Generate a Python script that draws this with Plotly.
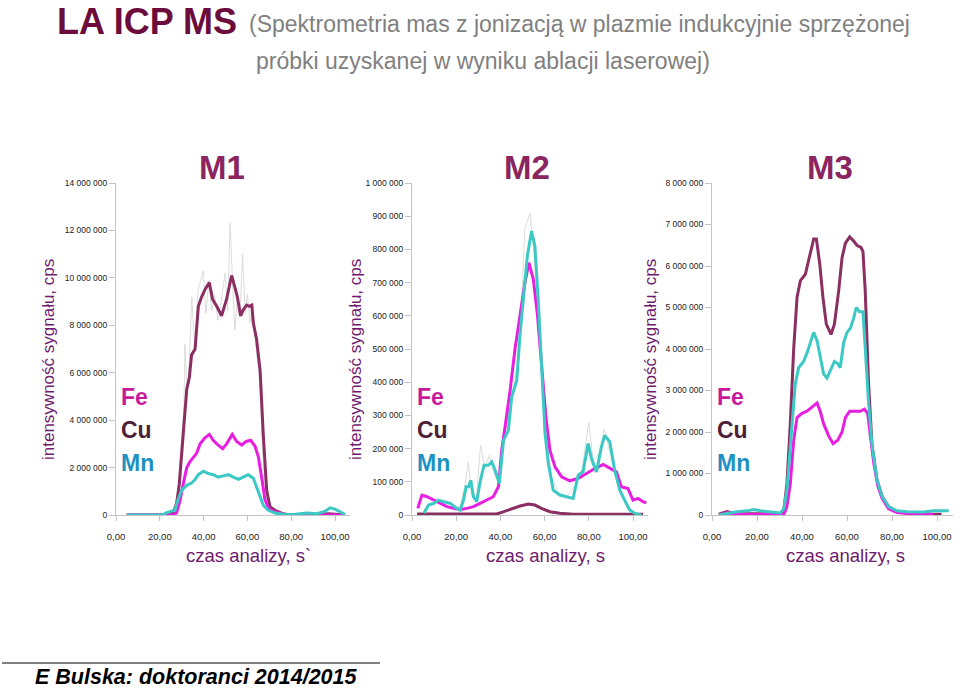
import plotly.graph_objects as go

W, H = 960, 689

# ---- data (time in s, intensity in cps) ----
m1_cu_t = [4.9, 24.7, 26.2, 27.7, 28.9, 30.7, 32.3, 33.5, 34.5, 36.1, 37.6, 39.1, 40.6, 42.6, 44.1, 46.0,
           48.2, 50.5, 52.8, 54.3, 55.4, 56.9, 58.1, 59.7, 60.9, 62.0, 62.7, 64.2, 65.8, 67.3, 68.8, 70.3,
           72.6, 76.4, 79.5, 90.0, 97.0, 104.6]
m1_cu = [0, 0, 0.1e6, 0.5e6, 1.3e6, 3.3e6, 5.3e6, 5.8e6, 6.75e6, 7.0e6, 8.8e6, 9.2e6, 9.5e6, 9.8e6, 9.1e6, 8.8e6,
         8.4e6, 9.1e6, 10.1e6, 9.6e6, 9.2e6, 8.4e6, 8.65e6, 8.85e6, 8.8e6, 8.85e6, 8.1e6, 7.4e6, 6.1e6, 3.3e6,
         1.05e6, 0.35e6, 0.2e6, 0.05e6, 0, 0.02e6, 0.05e6, 0]

m1_fe_t = [4.9, 26.5, 27.7, 29.2, 30.7, 32.3, 33.8, 35.6, 36.8, 38.4, 40.6, 42.6, 44.4, 46.7, 48.7, 50.5,
           53.1, 55.1, 57.4, 59.4, 61.5, 63.5, 65.0, 66.5, 68.0, 69.6, 71.9, 76.4, 80.0, 104.6]
m1_fe = [0, 0, 0.1e6, 0.6e6, 1.3e6, 2.0e6, 2.25e6, 2.45e6, 2.6e6, 3.0e6, 3.25e6, 3.4e6, 3.15e6, 2.95e6, 2.8e6,
         3.0e6, 3.4e6, 3.1e6, 2.95e6, 3.1e6, 3.15e6, 2.9e6, 2.45e6, 1.6e6, 0.65e6, 0.3e6, 0.15e6, 0.03e6, 0, 0]

m1_mn_t = [4.9, 21.0, 23.1, 25.4, 26.9, 28.5, 30.0, 32.3, 34.5, 36.1, 37.6, 39.9, 42.2, 44.4, 46.7, 49.0,
           51.3, 53.6, 55.9, 58.1, 60.4, 62.7, 64.2, 65.8, 67.3, 69.6, 72.6, 76.4, 81.0, 87.1, 91.6, 95.4,
           97.7, 100.0, 102.3, 104.6]
m1_mn = [0, 0, 0.1e6, 0.15e6, 0.2e6, 0.7e6, 1.05e6, 1.25e6, 1.35e6, 1.5e6, 1.7e6, 1.85e6, 1.75e6, 1.7e6,
         1.6e6, 1.65e6, 1.7e6, 1.6e6, 1.5e6, 1.6e6, 1.7e6, 1.55e6, 1.2e6, 0.8e6, 0.4e6, 0.2e6, 0.08e6,
         0.03e6, 0.02e6, 0.08e6, 0.05e6, 0.15e6, 0.3e6, 0.25e6, 0.12e6, 0.02e6]

m1_raw_t = [26, 28, 29.5, 31, 31.5, 32.5, 33.5, 34.6, 36, 37.5, 39.9, 41, 42.5, 43.7, 45, 46.5, 48, 49.8,
            51, 52.1, 53.3, 54.3, 55.5, 56.5, 57.8, 59, 60, 61.2, 62.5, 64, 65.5, 67, 68.5, 70]
m1_raw = [0.1e6, 0.8e6, 2.5e6, 4.5e6, 7.2e6, 5.0e6, 6.5e6, 9.2e6, 7.0e6, 9.5e6, 10.3e6, 8.5e6, 9.9e6, 8.6e6,
          9.3e6, 8.2e6, 9.0e6, 10.2e6, 8.6e6, 12.3e6, 9.6e6, 7.8e6, 9.2e6, 8.3e6, 11.0e6, 8.5e6, 9.3e6,
          8.1e6, 8.9e6, 7.0e6, 5.8e6, 2.5e6, 0.8e6, 0.2e6]

m2_fe_t = [2.6, 4.5, 6.8, 9.8, 12.8, 15.8, 18.8, 21.8, 24.8, 27.8, 30.8, 33.8, 36.8, 39.1, 40.6, 42.1, 44.4,
           46.6, 48.9, 51.1, 52.9, 54.9, 56.8, 58.6, 60.6, 62.4, 64.7, 67.7, 71.4, 75.2, 78.9, 82.7, 86.5,
           89.5, 92.5, 94.7, 97.7, 100.0, 102.3, 104.5, 106.0]
m2_fe = [20e3, 60e3, 55e3, 45e3, 35e3, 25e3, 20e3, 17e3, 20e3, 25e3, 35e3, 45e3, 55e3, 85e3, 195e3, 265e3,
         375e3, 500e3, 610e3, 700e3, 760e3, 710e3, 600e3, 450e3, 295e3, 195e3, 145e3, 115e3, 103e3, 110e3,
         125e3, 140e3, 152e3, 140e3, 130e3, 85e3, 80e3, 45e3, 50e3, 40e3, 37e3]

m2_mn_t = [5.3, 7.5, 9.8, 12.0, 14.3, 17.3, 20.3, 21.8, 23.3, 24.5, 25.6, 26.6, 27.8, 29.3, 30.8, 32.6, 34.6,
           36.1, 37.6, 39.5, 41.4, 43.6, 45.1, 47.4, 48.9, 50.7, 52.2, 54.1, 55.6, 57.1, 58.6, 60.2, 61.7,
           63.9, 66.9, 69.9, 72.9, 75.2, 77.4, 79.7, 81.2, 83.5, 85.7, 87.2, 89.5, 91.7, 94.0, 96.2, 98.5,
           100.8, 103.8]
m2_mn = [5e3, 30e3, 35e3, 45e3, 40e3, 35e3, 20e3, 15e3, 45e3, 85e3, 85e3, 105e3, 55e3, 40e3, 100e3, 150e3,
         150e3, 160e3, 135e3, 95e3, 225e3, 255e3, 355e3, 405e3, 545e3, 675e3, 780e3, 855e3, 810e3, 650e3,
         450e3, 245e3, 155e3, 75e3, 60e3, 55e3, 50e3, 120e3, 130e3, 215e3, 170e3, 130e3, 205e3, 240e3,
         220e3, 135e3, 75e3, 45e3, 15e3, 5e3, 0]

m2_cu_t = [2.3, 20.0, 38.3, 40.6, 44.4, 48.9, 52.6, 55.6, 58.6, 62.4, 66.9, 72.9, 104.5]
m2_cu = [3e3, 2e3, 3e3, 8e3, 17e3, 27e3, 33e3, 30e3, 20e3, 10e3, 5e3, 2e3, 2e3]

m2_raw_t = [20, 22, 24, 25.5, 27, 29, 31, 33, 35, 37, 39, 41, 43, 45, 47, 49, 51, 53.4, 55, 57, 59, 61, 63,
            66, 70, 74, 77, 80, 82, 85, 87, 89, 92, 95, 98]
m2_raw = [20e3, 30e3, 90e3, 160e3, 60e3, 40e3, 210e3, 140e3, 180e3, 130e3, 100e3, 230e3, 270e3, 340e3,
          420e3, 540e3, 860e3, 910e3, 800e3, 630e3, 420e3, 220e3, 120e3, 70e3, 55e3, 90e3, 140e3, 280e3,
          160e3, 190e3, 260e3, 200e3, 120e3, 60e3, 20e3]

m3_cu_t = [3.0, 6.7, 8.9, 12.6, 30.4, 31.9, 33.3, 34.8, 36.3, 37.8, 39.3, 41.5, 43.0, 44.4, 45.2, 46.4, 47.9,
           49.3, 50.8, 52.9, 54.4, 56.3, 57.8, 59.3, 61.2, 63.0, 64.4, 66.2, 67.1, 68.1, 69.6, 71.1, 73.3,
           75.6, 78.5, 82.2, 88.1, 98.5, 102.0]
m3_cu = [0.02e6, 0.08e6, 0.05e6, 0.03e6, 0.03e6, 0.1e6, 0.75e6, 2.2e6, 4.0e6, 5.25e6, 5.65e6, 5.8e6, 6.15e6,
         6.45e6, 6.65e6, 6.65e6, 6.05e6, 5.25e6, 4.6e6, 4.35e6, 4.6e6, 5.4e6, 6.2e6, 6.55e6, 6.7e6, 6.6e6,
         6.5e6, 6.45e6, 6.35e6, 5.4e6, 3.15e6, 1.7e6, 0.85e6, 0.45e6, 0.2e6, 0.08e6, 0.04e6, 0.02e6, 0.02e6]

m3_mn_t = [3.0, 6.7, 11.1, 15.6, 18.5, 21.5, 25.9, 30.4, 31.9, 33.3, 35.6, 37.0, 38.5, 40.7, 42.2, 43.7,
           45.2, 46.7, 48.1, 49.6, 51.1, 52.9, 54.4, 55.9, 57.0, 58.5, 60.0, 61.5, 63.0, 64.1, 65.6, 67.1,
           68.1, 69.6, 71.1, 73.3, 75.6, 78.5, 82.2, 86.7, 94.1, 98.5, 105.2]
m3_mn = [0, 0.04e6, 0.08e6, 0.1e6, 0.13e6, 0.1e6, 0.07e6, 0.05e6, 0.15e6, 0.6e6, 2.2e6, 3.15e6, 3.55e6,
         3.7e6, 3.9e6, 4.15e6, 4.4e6, 4.2e6, 3.8e6, 3.4e6, 3.3e6, 3.5e6, 3.7e6, 3.65e6, 3.55e6, 4.15e6,
         4.4e6, 4.5e6, 4.75e6, 5.0e6, 4.9e6, 4.9e6, 3.95e6, 2.7e6, 1.7e6, 0.85e6, 0.45e6, 0.2e6, 0.1e6,
         0.08e6, 0.07e6, 0.1e6, 0.1e6]

m3_fe_t = [3.7, 6.7, 8.9, 12.0, 31.9, 33.3, 34.8, 36.3, 37.8, 40.0, 42.2, 44.4, 46.7, 48.1, 49.6, 51.9, 53.8,
           55.9, 57.8, 59.3, 61.2, 63.7, 65.9, 67.7, 69.2, 70.4, 71.9, 73.7, 75.6, 78.5, 82.2, 88.1, 98.5]
m3_fe = [0, 0.06e6, 0.03e6, 0.01e6, 0.01e6, 0.2e6, 0.75e6, 1.8e6, 2.35e6, 2.45e6, 2.5e6, 2.6e6, 2.7e6,
         2.5e6, 2.2e6, 1.9e6, 1.72e6, 1.8e6, 2.0e6, 2.35e6, 2.5e6, 2.5e6, 2.5e6, 2.55e6, 2.45e6, 1.9e6,
         1.25e6, 0.7e6, 0.4e6, 0.15e6, 0.06e6, 0.03e6, 0.01e6]

panel_names = ["M1", "M2", "M3"]
x_ticks = [0, 20, 40, 60, 80, 100]
x_ticktext = ["0,00", "20,00", "40,00", "60,00", "80,00", "100,00"]
y1_ticks = [0, 2e6, 4e6, 6e6, 8e6, 10e6, 12e6, 14e6]
y1_ticktext = ["0", "2 000 000", "4 000 000", "6 000 000", "8 000 000", "10 000 000", "12 000 000", "14 000 000"]
y2_ticks = [0, 100e3, 200e3, 300e3, 400e3, 500e3, 600e3, 700e3, 800e3, 900e3, 1e6]
y2_ticktext = ["0", "100 000", "200 000", "300 000", "400 000", "500 000", "600 000", "700 000",
               "800 000", "900 000", "1 000 000"]
y3_ticks = [0, 1e6, 2e6, 3e6, 4e6, 5e6, 6e6, 7e6, 8e6]
y3_ticktext = ["0", "1 000 000", "2 000 000", "3 000 000", "4 000 000", "5 000 000", "6 000 000",
               "7 000 000", "8 000 000"]
x_titles = ["czas analizy, s`", "czas analizy, s", "czas analizy, s"]
y_title = "intensywność sygnału, cps"

# ---- styling ----
FONT = "Liberation Sans Narrow, Arial Narrow, Liberation Sans, Arial"
C_CU, C_FE, C_MN, C_RAW = "#8b2e62", "#e81ee0", "#3cc8c4", "#dcdcdc"
AX_COLOR = "#c4c4c4"


def px(x):
    return x / W


def py(y):
    return 1 - y / H


def note(x, y, text, size, color, xanchor="center", angle=0, family=FONT):
    return dict(x=px(x), y=py(y), xref="paper", yref="paper", xanchor=xanchor, yanchor="middle",
                text=text, showarrow=False, textangle=angle,
                font=dict(family=family, size=size, color=color))


fig = go.Figure()

panels = [
    dict(cu=(m1_cu_t, m1_cu), fe=(m1_fe_t, m1_fe), mn=(m1_mn_t, m1_mn), raw=(m1_raw_t, m1_raw),
         x0=116, x100=335, yr=14e6, ticks=(y1_ticks, y1_ticktext), ytitle_x=48, title_x=222, xtitle_x=248),
    dict(cu=(m2_cu_t, m2_cu), fe=(m2_fe_t, m2_fe), mn=(m2_mn_t, m2_mn), raw=(m2_raw_t, m2_raw),
         x0=412, x100=633, yr=1e6, ticks=(y2_ticks, y2_ticktext), ytitle_x=355, title_x=527, xtitle_x=545),
    dict(cu=(m3_cu_t, m3_cu), fe=(m3_fe_t, m3_fe), mn=(m3_mn_t, m3_mn), raw=None,
         x0=712, x100=937, yr=8e6, ticks=(y3_ticks, y3_ticktext), ytitle_x=650, title_x=830, xtitle_x=845),
]

Y0, Y1 = 515, 183
XMAX = 107

layout_axes = {}
annotations = []
for i, p in enumerate(panels):
    n = "" if i == 0 else str(i + 1)
    xa, ya = "x" + n, "y" + n
    if p["raw"]:
        fig.add_trace(go.Scatter(x=p["raw"][0], y=p["raw"][1], mode="lines", xaxis=xa, yaxis=ya,
                                 line=dict(color=C_RAW, width=1), showlegend=False))
    for k, col in [("cu", C_CU), ("fe", C_FE), ("mn", C_MN)]:
        fig.add_trace(go.Scatter(x=p[k][0], y=p[k][1], mode="lines", xaxis=xa, yaxis=ya,
                                 line=dict(color=col, width=3), showlegend=False))

    scale = (p["x100"] - p["x0"]) / 100
    right = p["x0"] + XMAX * scale
    layout_axes["xaxis" + n] = dict(
        domain=[px(p["x0"]), px(right)], range=[0, XMAX], anchor=ya, automargin=False,
        tickvals=x_ticks, ticktext=x_ticktext, showgrid=False, zeroline=False,
        showline=True, linecolor=AX_COLOR, linewidth=1, ticks="outside", ticklen=5,
        ticklabelstandoff=8,
        tickcolor=AX_COLOR, tickfont=dict(family=FONT, size=9.5, color="#222"))
    layout_axes["yaxis" + n] = dict(
        domain=[py(Y0), py(Y1)], range=[0, p["yr"]], anchor=xa, automargin=False,
        tickvals=p["ticks"][0], ticktext=p["ticks"][1], showgrid=False, zeroline=False,
        showline=True, linecolor=AX_COLOR, linewidth=1, ticks="outside", ticklen=6,
        tickcolor=AX_COLOR, tickfont=dict(family=FONT, size=8.5, color="#222"))

    annotations.append(note(p["title_x"], 167, "<b>" + panel_names[i] + "</b>", 33, "#8b2560"))
    annotations.append(note(p["xtitle_x"], 555, x_titles[i], 18.5, "#6e1a6e"))
    annotations.append(note(p["ytitle_x"], 360, y_title, 17, "#6e1a6e", angle=-90))
    for j, (lab, col) in enumerate([("Fe", "#c8199a"), ("Cu", "#4e1f35"), ("Mn", "#1c92c2")]):
        annotations.append(note(p["x0"] + 3, 397 + 33 * j, "<b>" + lab + "</b>", 23, col, xanchor="left"))

# main title
annotations.append(note(55, 21, "<b>LA ICP MS</b>", 36, "#6b0c3c", xanchor="left"))
annotations.append(note(247, 24, "(Spektrometria mas z jonizacją w plazmie indukcyjnie sprzężonej",
                        23, "#808080", xanchor="left"))
annotations.append(note(483, 61, "próbki uzyskanej w wyniku ablacji laserowej)", 23, "#808080"))
# footer
annotations.append(note(33, 677, "<b><i>E Bulska: doktoranci 2014/2015</i></b>", 21.5, "#000",
                        xanchor="left", family="Liberation Sans, Arial"))

fig.update_layout(
    width=W, height=H, margin=dict(l=0, r=0, t=0, b=0, autoexpand=False),
    paper_bgcolor="white", plot_bgcolor="white",
    annotations=annotations,
    shapes=[dict(type="line", xref="paper", yref="paper", x0=px(2), x1=px(380), y0=py(663), y1=py(663),
                 line=dict(color="#000", width=1))],
    **layout_axes,
)

fig.write_html("out.html", config={"displayModeBar": False},
               post_script="document.body.style.margin='0';")
